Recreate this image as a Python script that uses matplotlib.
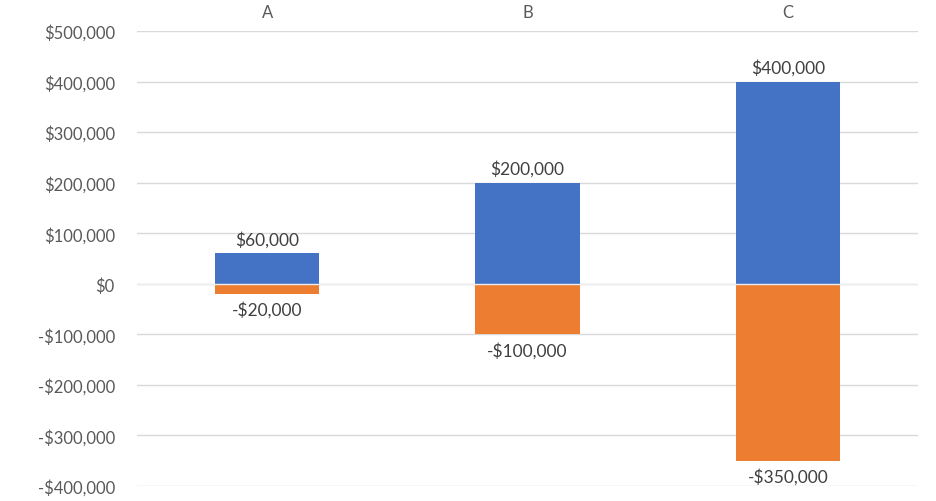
import matplotlib.pyplot as plt
from matplotlib.ticker import FuncFormatter

categories = ['A', 'B', 'C']
gains = [60000, 200000, 400000]
losses = [-20000, -100000, -350000]

plt.rcParams['font.family'] = ['Lato', 'DejaVu Sans']

def money(v, pos=None):
    if v < 0:
        return "-${:,.0f}".format(-v)
    return "${:,.0f}".format(v)

fig = plt.figure(figsize=(9.37, 5.02), dpi=100)
ax = fig.add_axes([0.1462, 0.0299, 0.8335, 0.9064])

x = range(len(categories))
ax.bar(x, gains, width=0.4, color='#4472C4', zorder=3)
ax.bar(x, losses, width=0.4, color='#ED7D31', zorder=3)
ax.axhline(0, color='#EDEDED', linewidth=1, zorder=4)

# data labels just outside the end of each bar
for i in x:
    ax.annotate(money(gains[i]), (i, gains[i]), xytext=(0, 4.5), textcoords='offset points',
                ha='center', va='bottom', fontsize=12.5, color='#404040')
    ax.annotate(money(losses[i]), (i, losses[i]), xytext=(0, -5), textcoords='offset points',
                ha='center', va='top', fontsize=12.5, color='#404040')

ax.set_xlim(-0.5, 2.5)
ax.set_ylim(-400000, 500000)
ax.set_yticks(range(-400000, 500001, 100000))
ax.yaxis.set_major_formatter(FuncFormatter(money))
ax.set_xticks(list(x))
ax.set_xticklabels(categories)
ax.xaxis.tick_top()
ax.tick_params(axis='both', length=0, labelsize=12, labelcolor='#595959')
ax.tick_params(axis='x', pad=8)
ax.tick_params(axis='y', pad=16)
ax.grid(axis='y', color='#D9D9D9', linewidth=1, zorder=0)
for s in ax.spines.values():
    s.set_visible(False)

plt.savefig('out.png', dpi=100)
